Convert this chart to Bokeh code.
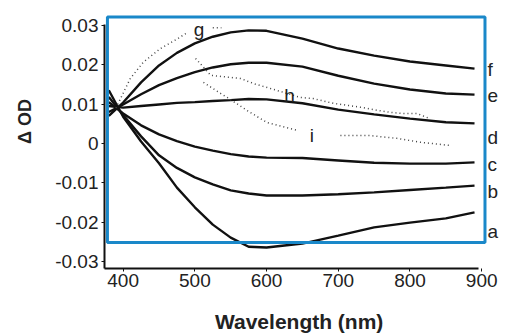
import math
from bokeh.plotting import figure
from bokeh.models import Range1d, FixedTicker, BoxAnnotation
from bokeh.core.properties import value
from bokeh.embed import file_html
from bokeh.resources import INLINE

# ---- data ----
wavelength = [380, 400, 425, 450, 475, 500, 525, 550, 575, 600, 650, 700, 750, 800, 850, 890]
curve_a = [0.0135, 0.0068, 0.0005, -0.0050, -0.0112, -0.0162, -0.0206, -0.0239, -0.0262, -0.0264, -0.0254, -0.0234, -0.0213, -0.0201, -0.0190, -0.0175]
curve_b = [0.0118, 0.0072, 0.0018, -0.0030, -0.0062, -0.0086, -0.0104, -0.0119, -0.0127, -0.0132, -0.0132, -0.0129, -0.0124, -0.0118, -0.0112, -0.0107]
curve_c = [0.0105, 0.0076, 0.0046, 0.0023, 0.0006, -0.0008, -0.0018, -0.0027, -0.0033, -0.0036, -0.0037, -0.0043, -0.0049, -0.0051, -0.0051, -0.0048]
curve_d = [0.0095, 0.0091, 0.0095, 0.0099, 0.0103, 0.0105, 0.0108, 0.0110, 0.0113, 0.0112, 0.0102, 0.0086, 0.0074, 0.0063, 0.0054, 0.0051]
curve_e = [0.0080, 0.0099, 0.0125, 0.0148, 0.0166, 0.0181, 0.0193, 0.0201, 0.0205, 0.0205, 0.0195, 0.0172, 0.0152, 0.0137, 0.0127, 0.0124]
curve_f = [0.0070, 0.0104, 0.0155, 0.0198, 0.0230, 0.0254, 0.0271, 0.0282, 0.0287, 0.0286, 0.0266, 0.0241, 0.0223, 0.0208, 0.0198, 0.0190]

nan = float("nan")
g_x = [390, 410, 428, 452, 476, 490, nan, 525, 537]
g_y = [0.0090, 0.0165, 0.0206, 0.0241, 0.0266, 0.0282, nan, 0.0294, 0.0294]
h_x = [501, 522, 564, 582, 601, 647, 665, 693, 735, 755, 773, 791, 810, 828]
h_y = [0.0216, 0.0173, 0.0165, 0.0152, 0.0142, 0.0117, 0.0114, 0.0102, 0.0091, 0.0084, 0.0079, 0.0076, 0.0076, 0.0063]
i_x = [512, 536, 545, 577, 601, 643, nan, 703, 745, 782, 815, 856]
i_y = [0.0155, 0.0127, 0.0117, 0.0079, 0.0053, 0.0033, nan, 0.0020, 0.0020, 0.0013, 0.0003, -0.0005]

solid_names = ["a", "b", "c", "d", "e", "f"]
solid_label_x = [908, 908, 908, 908, 908, 908]
solid_label_y = [-0.0223, -0.0122, -0.0053, 0.0015, 0.0122, 0.0188]
dotted_names = ["g", "h", "i"]
dotted_label_x = [506, 632, 663]
dotted_label_y = [0.0290, 0.0122, 0.0020]

x_ticks = [400, 500, 600, 700, 800, 900]
y_ticks = [-0.03, -0.02, -0.01, 0.0, 0.01, 0.02, 0.03]
y_tick_labels = ["-0.03", "-0.02", "-0.01", "0", "0.01", "0.02", "0.03"]

highlight_box = [378.1, 904.6, -0.0251, 0.0321]  # left, right, bottom, top

# ---- figure ----
p = figure(width=508, height=335, output_backend="svg", toolbar_location=None,
           x_range=Range1d(374.0, 933.2), y_range=Range1d(-0.03173, 0.03274),
           min_border_left=104, min_border_right=3, min_border_top=14, min_border_bottom=67)
p.outline_line_color = None
p.xgrid.visible = False
p.ygrid.visible = False
p.background_fill_color = "white"
p.border_fill_color = "white"

FONT = "Liberation Sans"
TXT = "#222222"

for ax in (p.xaxis[0], p.yaxis[0]):
    ax.axis_line_color = "#111111"
    ax.axis_line_width = 2
    ax.major_tick_line_color = "#111111"
    ax.major_tick_in = 0
    ax.major_tick_out = 3
    ax.minor_tick_line_color = None
    ax.major_label_text_font = FONT
    ax.major_label_text_font_size = "19px"
    ax.major_label_text_color = TXT
    ax.axis_label_text_font = FONT
    ax.axis_label_text_font_style = "bold"
    ax.axis_label_text_color = TXT

p.xaxis.ticker = FixedTicker(ticks=x_ticks)
p.xaxis.bounds = (374.0, 895.0)
p.xaxis.major_label_standoff = 2
p.xaxis.axis_label = "Wavelength (nm)" + "\u00a0" * 2
p.xaxis.axis_label_text_font_size = "21px"
p.xaxis.axis_label_standoff = 20

p.yaxis.ticker = FixedTicker(ticks=y_ticks)
p.yaxis.major_label_overrides = {t: l for t, l in zip(y_ticks, y_tick_labels)}
p.yaxis.bounds = (-0.03173, 0.0302)
p.yaxis.major_label_standoff = 3
p.yaxis.axis_label = "\u00a0" * 8 + "\u0394 OD"
p.yaxis.axis_label_text_font_size = "18px"
p.yaxis.axis_label_standoff = 17

# solid curves
for ys in (curve_a, curve_b, curve_c, curve_d, curve_e, curve_f):
    p.line(wavelength, ys, line_color="#111111", line_width=2.4)

# dotted curves
for xs, ys in ((g_x, g_y), (h_x, h_y), (i_x, i_y)):
    p.line(xs, ys, line_color="#444444", line_width=1.5, line_dash="1 3")

# labels
p.text(x=solid_label_x, y=solid_label_y, text=solid_names, text_font=value(FONT),
       text_font_size="19px", text_color=TXT, text_align="left", text_baseline="alphabetic")
p.text(x=dotted_label_x, y=dotted_label_y, text=dotted_names, text_font=value(FONT),
       text_font_size="19px", text_color=TXT, text_align="center", text_baseline="alphabetic")

# blue highlight frame
p.add_layout(BoxAnnotation(left=highlight_box[0], right=highlight_box[1],
                           bottom=highlight_box[2], top=highlight_box[3],
                           fill_alpha=0, line_color="#1a88c9", line_alpha=1.0, line_width=3))

open("out.html", "w").write(file_html(p, INLINE))
